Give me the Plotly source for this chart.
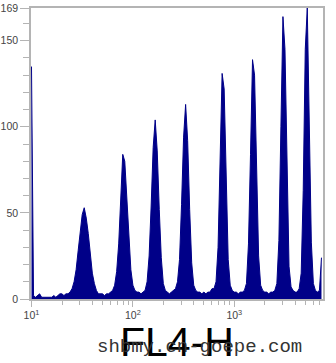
import plotly.graph_objects as go

# Histogram of FL4-H (log scale), bins every 0.02 decades starting at 10^1.00
bin_start_log = 1.00
bin_step_log = 0.02
counts = [
    135, 2, 1, 2, 3, 1, 1, 1, 1, 1,          # 1.00 - 1.18
    1, 2, 1, 2, 3, 3, 2, 3, 3, 4,            # 1.20 - 1.38
    6, 10, 17, 28, 40, 49, 53, 47, 38, 26,   # 1.40 - 1.58
    15, 9, 5, 3, 3, 3, 2, 3, 3, 4,           # 1.60 - 1.78
    5, 8, 16, 32, 57, 84, 80, 61, 36, 17,    # 1.80 - 1.98
    8, 5, 4, 4, 3, 4, 5, 10, 25, 54,         # 2.00 - 2.18
    88, 104, 86, 52, 24, 9, 5, 4, 3, 4,      # 2.20 - 2.38
    5, 6, 10, 23, 55, 94, 113, 92, 52, 21,   # 2.40 - 2.58
    8, 5, 4, 4, 3, 4, 3, 4, 4, 6,            # 2.60 - 2.78
    6, 10, 30, 80, 131, 122, 68, 23, 8, 5,   # 2.80 - 2.98
    4, 4, 3, 4, 4, 5, 9, 32, 84, 139,        # 3.00 - 3.18
    130, 72, 25, 8, 5, 4, 4, 3, 4, 4,        # 3.20 - 3.38
    5, 9, 34, 100, 164, 145, 70, 19, 7, 5,   # 3.40 - 3.58
    4, 4, 6, 15, 63, 145, 169, 103, 33, 9,   # 3.60 - 3.78
    5, 4, 5, 24,                             # 3.80 - 3.86
]
x_vals = [10 ** (bin_start_log + bin_step_log * i) for i in range(len(counts))]

y_tick_vals = [0, 50, 100, 150, 169]
y_tick_text = ["0", "50", "100", "150", "169"]
y_minor_vals = [10, 20, 30, 40, 60, 70, 80, 90, 110, 120, 130, 140, 160]
x_tick_vals = [10, 100, 1000]
x_tick_text = ["10<sup>1</sup>", "10<sup>2</sup>", "10<sup>3</sup>"]
x_minor_vals = [m * d for d in (10, 100, 1000) for m in range(2, 10) if m * d < 7600]

axis_title = "FL4-H"
watermark = "shbmy.cn-goepe.com"

navy = "rgb(0,0,136)"
gray = "#b4b4b4"

fig = go.Figure()
fig.add_trace(go.Scatter(
    x=x_vals, y=counts, mode="lines", fill="tozeroy",
    line=dict(color=navy, width=1), fillcolor=navy,
    hoverinfo="skip", showlegend=False,
))

fig.update_layout(
    width=336, height=363,
    margin=dict(l=31, r=13, t=8, b=64),
    paper_bgcolor="white", plot_bgcolor="white",
    font=dict(family="Liberation Sans, Arial, sans-serif", size=10.5, color="#444"),
    xaxis=dict(
        type="log", range=[0.995, 3.875], automargin=False,
        showgrid=False, zeroline=False,
        showline=True, linecolor=gray, linewidth=1.5, mirror=True,
        ticks="outside", ticklen=6, tickcolor=gray, tickwidth=1,
        tickvals=x_tick_vals, ticktext=x_tick_text,
        minor=dict(tickvals=x_minor_vals, ticks="outside", ticklen=4,
                   tickcolor=gray, tickwidth=1, showgrid=False),
        tickfont=dict(size=10.5, color="#444"),
    ),
    yaxis=dict(
        range=[0, 169], automargin=False,
        showgrid=False, zeroline=False,
        showline=True, linecolor=gray, linewidth=1.5, mirror=True,
        ticks="outside", ticklen=9, tickcolor=gray, tickwidth=1,
        tickvals=y_tick_vals, ticktext=y_tick_text,
        minor=dict(tickvals=y_minor_vals, ticks="outside", ticklen=6,
                   tickcolor=gray, tickwidth=1, showgrid=False),
        tickfont=dict(size=10.5, color="#444"),
    ),
)

fig.add_annotation(
    text=axis_title, xref="paper", yref="paper", x=0.5, y=-0.149,
    xanchor="center", yanchor="middle", showarrow=False,
    font=dict(family="Liberation Sans, Arial, sans-serif", size=41, color="black"),
)
fig.add_annotation(
    text=watermark, xref="paper", yref="paper", x=(199.5 - 31) / 292, y=(299 - 346.7) / 291,
    xanchor="center", yanchor="middle", showarrow=False,
    font=dict(family="Liberation Mono, DejaVu Sans Mono, monospace", size=19, color="#333"),
)

fig.write_html("out.html")
